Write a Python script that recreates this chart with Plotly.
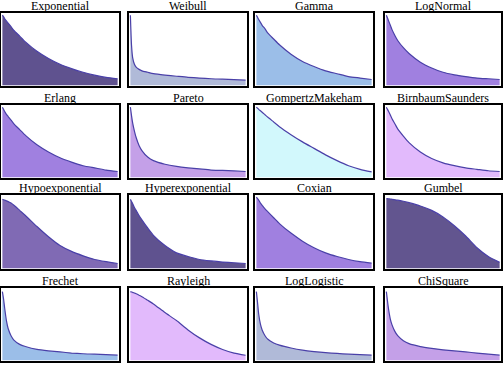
import plotly.graph_objects as go

# shared x positions (fraction of the visible range)
x_vals = [0, 0.01, 0.02, 0.035, 0.05, 0.075, 0.1, 0.15, 0.2, 0.3, 0.4, 0.5, 0.6, 0.7, 0.8, 0.9, 1.0]

titles = ["Exponential", "Weibull", "Gamma", "LogNormal",
          "Erlang", "Pareto", "GompertzMakeham", "BirnbaumSaunders",
          "Hypoexponential", "Hyperexponential", "Coxian", "Gumbel",
          "Frechet", "Rayleigh", "LogLogistic", "ChiSquare"]

exponential = [0.97, 0.95, 0.92, 0.89, 0.86, 0.81, 0.76, 0.68, 0.60, 0.47, 0.37, 0.29, 0.23, 0.18, 0.14, 0.11, 0.09]
weibull = [0.97, 0.55, 0.38, 0.29, 0.25, 0.22, 0.20, 0.18, 0.16, 0.14, 0.125, 0.11, 0.10, 0.09, 0.085, 0.077, 0.07]
gamma = [0.97, 0.94, 0.91, 0.87, 0.83, 0.78, 0.72, 0.64, 0.56, 0.43, 0.33, 0.26, 0.20, 0.16, 0.12, 0.10, 0.08]
lognormal = [0.97, 0.93, 0.89, 0.83, 0.77, 0.69, 0.62, 0.52, 0.44, 0.32, 0.24, 0.18, 0.145, 0.12, 0.10, 0.09, 0.08]
erlang = [0.97, 0.94, 0.91, 0.87, 0.84, 0.79, 0.74, 0.66, 0.58, 0.45, 0.35, 0.27, 0.21, 0.16, 0.13, 0.10, 0.08]
pareto = [0.97, 0.85, 0.75, 0.64, 0.55, 0.44, 0.37, 0.28, 0.23, 0.18, 0.15, 0.13, 0.115, 0.10, 0.095, 0.088, 0.08]
gompertz = [0.97, 0.955, 0.94, 0.92, 0.90, 0.865, 0.83, 0.765, 0.70, 0.59, 0.49, 0.40, 0.31, 0.23, 0.16, 0.11, 0.075]
birnbaum = [0.97, 0.94, 0.91, 0.86, 0.81, 0.74, 0.67, 0.57, 0.48, 0.35, 0.26, 0.20, 0.16, 0.13, 0.11, 0.09, 0.08]
hypoexp = [0.94, 0.935, 0.93, 0.92, 0.91, 0.89, 0.86, 0.79, 0.72, 0.57, 0.43, 0.31, 0.23, 0.17, 0.12, 0.09, 0.065]
hyperexp = [0.94, 0.91, 0.88, 0.83, 0.79, 0.72, 0.66, 0.55, 0.45, 0.31, 0.21, 0.16, 0.12, 0.10, 0.085, 0.075, 0.065]
coxian = [0.97, 0.95, 0.93, 0.89, 0.86, 0.81, 0.77, 0.69, 0.61, 0.48, 0.37, 0.28, 0.21, 0.16, 0.12, 0.09, 0.07]
gumbel = [0.95, 0.95, 0.948, 0.945, 0.94, 0.935, 0.93, 0.915, 0.895, 0.85, 0.79, 0.70, 0.58, 0.44, 0.28, 0.16, 0.08]
frechet = [0.95, 0.85, 0.72, 0.55, 0.44, 0.34, 0.28, 0.22, 0.19, 0.15, 0.13, 0.115, 0.10, 0.09, 0.085, 0.078, 0.07]
rayleigh = [0.95, 0.945, 0.94, 0.93, 0.92, 0.90, 0.88, 0.83, 0.78, 0.66, 0.55, 0.42, 0.31, 0.22, 0.15, 0.10, 0.07]
loglogistic = [0.95, 0.80, 0.64, 0.50, 0.42, 0.34, 0.29, 0.24, 0.21, 0.17, 0.14, 0.12, 0.105, 0.095, 0.085, 0.078, 0.07]
chisquare = [0.95, 0.82, 0.70, 0.57, 0.49, 0.40, 0.34, 0.27, 0.23, 0.19, 0.165, 0.145, 0.13, 0.115, 0.10, 0.085, 0.07]

series = [exponential, weibull, gamma, lognormal,
          erlang, pareto, gompertz, birnbaum,
          hypoexp, hyperexp, coxian, gumbel,
          frechet, rayleigh, loglogistic, chisquare]

fill_colors = ["#5f528f", "#b0bad8", "#9bbee8", "#a080e0",
               "#a080e0", "#c4a0e8", "#d2f8fc", "#e2bafc",
               "#806ab4", "#5f528f", "#a080e0", "#62558f",
               "#9bbee8", "#e2bafc", "#b0bad8", "#c4a0e8"]

line_color = "#4a40a8"

W, H = 504, 366
col_px = [(1, 119), (129, 247), (255, 373), (385, 501)]
row_px = [(13, 86), (105, 178), (195, 269), (288, 361)]

fig = go.Figure()
annotations = []
for i, (title, ys, fc) in enumerate(zip(titles, series, fill_colors)):
    r, c = divmod(i, 4)
    n = i + 1
    xa = "x" if n == 1 else f"x{n}"
    ya = "y" if n == 1 else f"y{n}"
    fig.add_trace(go.Scatter(
        x=x_vals, y=ys, mode="lines", fill="tozeroy",
        fillcolor=fc, line=dict(color=line_color, width=1.2, shape="spline", smoothing=0.6),
        xaxis=xa, yaxis=ya, showlegend=False, hoverinfo="skip"))
    x0, x1 = col_px[c]
    y0, y1 = row_px[r]
    dom_x = [x0 / W, x1 / W]
    dom_y = [1 - y1 / H, 1 - y0 / H]
    axis_common = dict(showgrid=False, zeroline=False, showticklabels=False, ticks="",
                       showline=True, linecolor="black", linewidth=1.5, mirror=True, fixedrange=True)
    fig.update_layout(**{
        ("xaxis" if n == 1 else f"xaxis{n}"): dict(domain=dom_x, range=[-0.012, 1.012],
                                                   anchor=ya, **axis_common),
        ("yaxis" if n == 1 else f"yaxis{n}"): dict(domain=dom_y, range=[-0.01, 1.0],
                                                   anchor=xa, **axis_common),
    })
    annotations.append(dict(text=title, x=(dom_x[0] + dom_x[1]) / 2, y=dom_y[1],
                            xref="paper", yref="paper", xanchor="center", yanchor="bottom",
                            yshift=-2, showarrow=False,
                            font=dict(family="Liberation Serif", size=12, color="black")))

fig.update_layout(width=W, height=H, margin=dict(l=0, r=0, t=0, b=0),
                  paper_bgcolor="white", plot_bgcolor="white", annotations=annotations)

fig.write_html("out.html", config={"displayModeBar": False},
               post_script="document.body.style.margin='0';document.body.style.padding='0';")
